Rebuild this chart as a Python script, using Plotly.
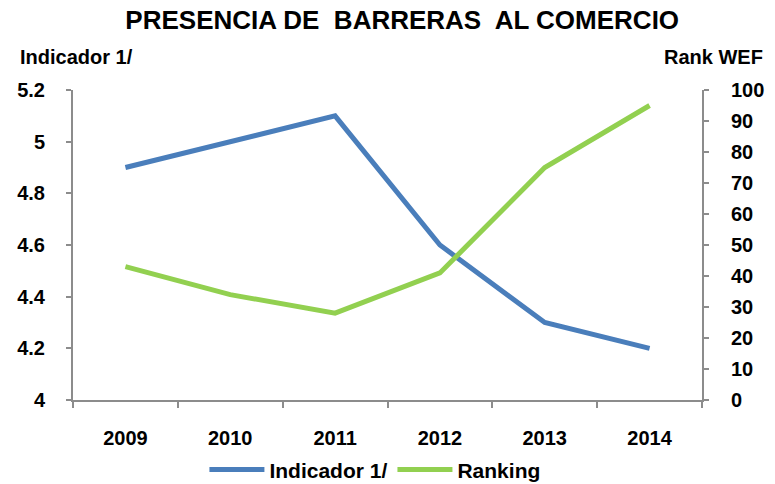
import plotly.graph_objects as go

years = ["2009", "2010", "2011", "2012", "2013", "2014"]
indicador = [4.9, 5.0, 5.1, 4.6, 4.3, 4.2]
ranking = [43, 34, 28, 41, 75, 95]

FONT = "Liberation Sans, Arial, sans-serif"
BLUE = "#4A7EBB"
GREEN = "#92D050"
AXIS = "#8C8C8C"
TF = dict(family=FONT, size=20, color="#000", weight="bold")

fig = go.Figure()
fig.add_trace(go.Scatter(x=years, y=indicador, name="Indicador 1/", mode="lines",
                         line=dict(color=BLUE, width=5), yaxis="y"))
fig.add_trace(go.Scatter(x=years, y=ranking, name="Ranking", mode="lines",
                         line=dict(color=GREEN, width=5), yaxis="y2"))

fig.update_layout(
    width=775, height=484,
    margin=dict(l=73, r=73, t=90, b=84),
    paper_bgcolor="white", plot_bgcolor="white",
    font=dict(family=FONT, size=20, color="#000000"),
    showlegend=True,
    legend=dict(orientation="h", x=0.48, xanchor="center", yref="container",
                y=0.029, yanchor="middle",
                font=dict(family=FONT, size=21, color="#000", weight="bold"),
                itemwidth=55, traceorder="normal"),
    xaxis=dict(type="category", range=[-0.5, 5.5], showgrid=False, showline=True,
               automargin=False,
               linecolor=AXIS, linewidth=2, ticks="outside", tickson="boundaries",
               ticklen=6, tickcolor=AXIS, tickwidth=1.5, ticklabelstandoff=19,
               tickfont=TF),
    yaxis=dict(range=[4, 5.2], tickvals=[4, 4.2, 4.4, 4.6, 4.8, 5, 5.2],
               ticktext=["4", "4.2", "4.4", "4.6", "4.8", "5", "5.2"],
               automargin=False,
               showgrid=False, zeroline=False, showline=True, linecolor=AXIS, linewidth=2,
               ticks="outside", ticklen=5, tickcolor=AXIS, tickwidth=1.5,
               ticklabelstandoff=17, tickfont=TF),
    yaxis2=dict(range=[0, 100], tickvals=list(range(0, 101, 10)), overlaying="y",
                side="right", showgrid=False, zeroline=False, showline=True,
                automargin=False,
                linecolor=AXIS, linewidth=2, ticks="outside", ticklen=5,
                tickcolor=AXIS, tickwidth=1.5, ticklabelstandoff=18, tickfont=TF),
    title=dict(text="<b>PRESENCIA DE  BARRERAS  AL COMERCIO</b>", x=0.519, xanchor="center",
               yref="container", y=0.958, yanchor="middle",
               font=dict(family=FONT, size=26, color="#000")),
    annotations=[
        dict(text="<b>Indicador 1/</b>", xref="paper", yref="paper", x=-0.0874, y=1.106,
             xanchor="left", yanchor="middle", showarrow=False,
             font=dict(family=FONT, size=20, color="#000")),
        dict(text="<b>Rank WEF</b>", xref="paper", yref="paper", x=1.100, y=1.106,
             xanchor="right", yanchor="middle", showarrow=False,
             font=dict(family=FONT, size=20, color="#000")),
    ],
)

fig.write_html("out.html", config={"displayModeBar": False},
               post_script="document.body.style.margin='0';document.body.style.overflow='hidden';")
